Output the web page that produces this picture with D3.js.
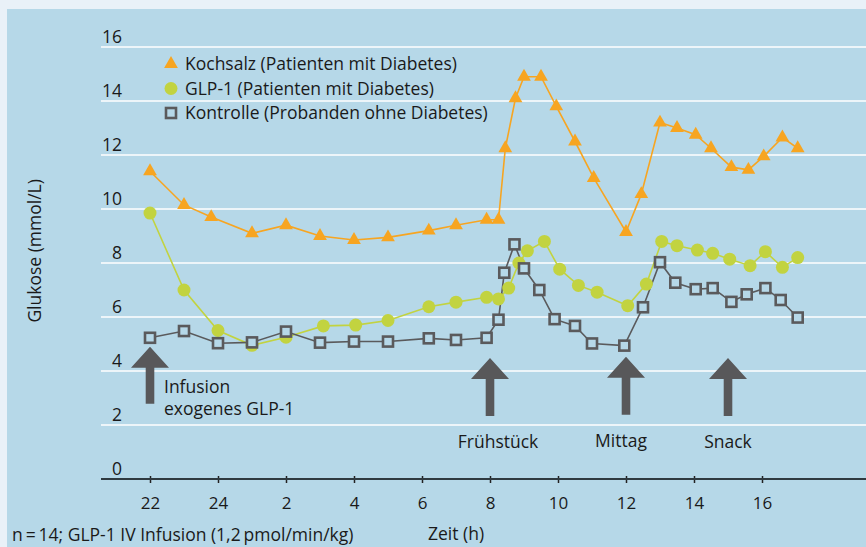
<!DOCTYPE html>
<html>
<head>
<meta charset="utf-8">
<script src="https://cdn.jsdelivr.net/npm/d3@7"></script>
<style>
  html, body { margin: 0; padding: 0; background: #e9f1f8; }
  svg text { font-family: "Open Sans", sans-serif; fill: #1a1a1a; }
</style>
</head>
<body>
<div id="chart"></div>
<script>
// Time in hours from 22:00 (22 = 22 Uhr, 32 = 8 Uhr next day), glucose in mmol/L
const kochsalzTime  = [22, 23, 23.8, 25, 26, 27, 28, 29, 30.2, 31, 31.9, 32.25, 32.45, 32.75, 33, 33.5, 33.95, 34.5, 35.05, 36, 36.45, 37, 37.5, 38.05, 38.5, 39.1, 39.6, 40.05, 40.6, 41.05];
const kochsalzValue = [11.4, 10.15, 9.7, 9.1, 9.4, 9.0, 8.85, 8.95, 9.2, 9.4, 9.6, 9.6, 12.25, 14.1, 14.9, 14.9, 13.8, 12.5, 11.15, 9.15, 10.55, 13.2, 13.0, 12.75, 12.25, 11.55, 11.45, 11.95, 12.65, 12.25];

const glpTime  = [22, 23, 24, 25, 26, 27.1, 28.05, 29, 30.2, 31, 31.9, 32.25, 32.55, 32.85, 33.1, 33.6, 34.05, 34.6, 35.15, 36.05, 36.6, 37.05, 37.5, 38.1, 38.55, 39.05, 39.65, 40.1, 40.6, 41.05];
const glpValue = [9.85, 7.0, 5.5, 4.95, 5.25, 5.67, 5.7, 5.87, 6.38, 6.55, 6.73, 6.67, 7.07, 8.0, 8.45, 8.8, 7.77, 7.17, 6.92, 6.42, 7.22, 8.8, 8.64, 8.48, 8.36, 8.14, 7.9, 8.42, 7.84, 8.2];

const kontrolleTime  = [22, 23, 24, 25, 26, 27, 28, 29, 30.2, 31, 31.9, 32.25, 32.42, 32.72, 33, 33.45, 33.9, 34.5, 35, 35.95, 36.5, 37, 37.45, 38.05, 38.55, 39.1, 39.55, 40.1, 40.55, 41.05];
const kontrolleValue = [5.23, 5.48, 5.03, 5.06, 5.46, 5.05, 5.09, 5.09, 5.21, 5.15, 5.23, 5.9, 7.64, 8.69, 7.8, 7.0, 5.92, 5.67, 5.02, 4.94, 6.36, 8.03, 7.27, 7.03, 7.07, 6.56, 6.84, 7.07, 6.63, 5.98];

const seriesNames = ["Kochsalz (Patienten mit Diabetes)", "GLP-1 (Patienten mit Diabetes)", "Kontrolle (Probanden ohne Diabetes)"];

const yTicks = [0, 2, 4, 6, 8, 10, 12, 14, 16];
const xTicks = [22, 24, 26, 28, 30, 32, 34, 36, 38, 40];
const xTickLabels = ["22", "24", "2", "4", "6", "8", "10", "12", "14", "16"];

// events: time, arrow tip (mmol/L), label lines
const eventTime  = [22, 32, 36, 39];
const eventTip   = [4.9, 4.48, 4.53, 4.48];
const eventLabel = [["Infusion", "exogenes GLP-1"], ["Frühstück"], ["Mittag"], ["Snack"]];

const W = 866, H = 547;
const FS = 17.5;
const svg = d3.select("#chart").append("svg")
    .attr("width", W)
    .attr("height", H);

// panel
svg.append("rect")
    .attr("x", 7).attr("y", 9)
    .attr("width", W - 7).attr("height", H - 9)
    .attr("fill", "#b6d8e8");

const x = d3.scaleLinear().domain([22, 40]).range([150, 762]);
const y = d3.scaleLinear().domain([0, 16]).range([479, 47]);

// gridlines
svg.append("g")
    .selectAll("line")
    .data(yTicks.filter(d => d > 0))
    .join("line")
    .attr("x1", 101).attr("x2", W)
    .attr("y1", d => y(d)).attr("y2", d => y(d))
    .attr("stroke", "#ffffff")
    .attr("stroke-width", 1.6);

// y tick labels sit above the gridlines
svg.append("g")
    .selectAll("text")
    .data(yTicks)
    .join("text")
    .attr("x", 122)
    .attr("y", d => y(d) - 4.5)
    .attr("text-anchor", "end")
    .attr("font-size", 17.5)
    .text(d => d);

// x axis
const xAxis = d3.axisBottom(x)
    .tickValues(xTicks)
    .tickFormat((d, i) => xTickLabels[i])
    .tickSize(7)
    .tickPadding(14);

const gx = svg.append("g")
    .attr("transform", `translate(0,${y(0) - 3})`)
    .call(xAxis);
gx.select(".domain").remove();
gx.selectAll(".tick line").attr("stroke", "#222").attr("stroke-width", 1.5);
gx.selectAll(".tick text")
    .attr("font-size", 17)
    .attr("font-family", "Open Sans, sans-serif")
    .attr("fill", "#1a1a1a");

svg.append("line")
    .attr("x1", 101).attr("x2", W)
    .attr("y1", y(0)).attr("y2", y(0))
    .attr("stroke", "#2f3a40")
    .attr("stroke-width", 2);

// axis titles
svg.append("text")
    .attr("transform", `translate(41,${y(8.45)}) rotate(-90)`)
    .attr("text-anchor", "middle")
    .attr("font-size", FS)
    .text("Glukose (mmol/L)");

svg.append("text")
    .attr("x", 428).attr("y", 540)
    .attr("font-size", FS)
    .text("Zeit (h)");

svg.append("text")
    .attr("x", 12).attr("y", 541)
    .attr("font-size", FS)
    .text("n\u2009=\u200914; GLP-1 IV Infusion (1,2\u2009pmol/min/kg)");

// event arrows
const arrowColor = "#58585a";
const ev = svg.append("g")
    .selectAll("g")
    .data(eventTime.map((t, i) => ({t, tip: eventTip[i], label: eventLabel[i], i})))
    .join("g")
    .attr("transform", d => `translate(${x(d.t)},${y(d.tip)})`);

ev.append("path")
    .attr("d", d => {
        const len = d.i === 0 ? 57 : 58;
        return `M0,0 L19,21 L4.3,21 L4.3,${len} L-4.3,${len} L-4.3,21 L-19,21 Z`;
    })
    .attr("fill", arrowColor);

ev.each(function(d) {
    const g = d3.select(this);
    if (d.i === 0) {
        g.selectAll("text")
            .data(d.label)
            .join("text")
            .attr("x", 14)
            .attr("y", (l, j) => 46 + j * 22)
            .attr("font-size", FS)
            .text(l => l);
    } else {
        g.append("text")
            .attr("x", d.i === 1 ? 8 : (d.i === 2 ? -5 : 0))
            .attr("y", 90)
            .attr("text-anchor", "middle")
            .attr("font-size", FS)
            .text(d.label[0]);
    }
});

// series
const orange = "#f7a521", green = "#c2d340", grey = "#5a5a5c";
const line = d3.line().x(d => x(d[0])).y(d => y(d[1]));

const kochsalz = kochsalzTime.map((t, i) => [t, kochsalzValue[i]]);
const glp = glpTime.map((t, i) => [t, glpValue[i]]);
const kontrolle = kontrolleTime.map((t, i) => [t, kontrolleValue[i]]);

svg.append("path").datum(kochsalz)
    .attr("d", line).attr("fill", "none")
    .attr("stroke", orange).attr("stroke-width", 1.6);

svg.append("path").datum(glp)
    .attr("d", line).attr("fill", "none")
    .attr("stroke", green).attr("stroke-width", 1.6);

svg.append("path").datum(kontrolle)
    .attr("d", line).attr("fill", "none")
    .attr("stroke", grey).attr("stroke-width", 1.6);

const tri = d3.symbol().type(d3.symbolTriangle).size(82);

svg.append("g").selectAll("path")
    .data(kochsalz)
    .join("path")
    .attr("d", tri)
    .attr("transform", d => `translate(${x(d[0])},${y(d[1])})`)
    .attr("fill", orange);

svg.append("g").selectAll("circle")
    .data(glp)
    .join("circle")
    .attr("cx", d => x(d[0])).attr("cy", d => y(d[1]))
    .attr("r", 6.5)
    .attr("fill", green);

svg.append("g").selectAll("rect")
    .data(kontrolle)
    .join("rect")
    .attr("x", d => x(d[0]) - 5).attr("y", d => y(d[1]) - 5)
    .attr("width", 10).attr("height", 10)
    .attr("fill", "#b6d8e8")
    .attr("stroke", grey)
    .attr("stroke-width", 2.6);

// legend
const legend = svg.append("g").attr("transform", "translate(171,64)");
const items = legend.selectAll("g")
    .data(seriesNames)
    .join("g")
    .attr("transform", (d, i) => `translate(0,${i * 24.5})`);

items.each(function(d, i) {
    const g = d3.select(this);
    if (i === 0) g.append("path").attr("d", tri).attr("fill", orange);
    if (i === 1) g.append("circle").attr("r", 6.5).attr("fill", green);
    if (i === 2) g.append("rect").attr("x", -5).attr("y", -5)
        .attr("width", 10).attr("height", 10)
        .attr("fill", "#b6d8e8").attr("stroke", grey).attr("stroke-width", 2.6);
    g.append("text")
        .attr("x", 14).attr("y", 6)
        .attr("font-size", FS)
        .text(d);
});
</script>
</body>
</html>
